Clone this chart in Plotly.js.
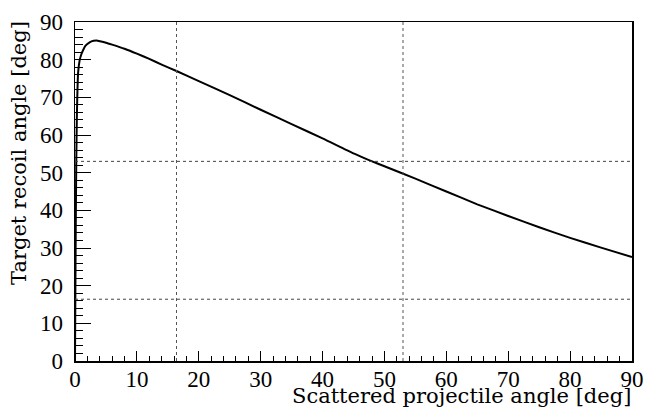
<!DOCTYPE html>
<html>
<head>
<meta charset="utf-8">
<script src="https://cdn.plot.ly/plotly-3.0.1.min.js"></script>
<style>
html,body{margin:0;padding:0;background:#fff;}
#chart{width:646px;height:409px;}
#chart .xtick text, #chart .ytick text{font-family:'Liberation Serif','Times New Roman',serif !important;}
#chart .annotation-text{font-family:'DejaVu Serif',serif !important;}
</style>
</head>
<body>
<div id="chart"></div>
<script>
// Scattered projectile angle [deg]
var projAngle = [0, 0.05, 0.12, 0.2, 0.3, 0.4, 0.5, 0.75, 1, 1.3, 1.7, 2.36, 3, 3.5, 4, 5, 6, 8, 10, 12, 14, 16.4, 20, 25, 30, 35, 40, 45, 47.7, 50, 55, 60, 65, 70, 75, 80, 85, 90];
// Target recoil angle [deg]
var recoilAngle = [0, 15, 35, 52, 65, 72, 76.5, 79.8, 81.3, 82.5, 83.7, 84.6, 85.0, 85.1, 84.9, 84.5, 84.0, 82.9, 81.6, 80.2, 78.7, 77.0, 74.3, 70.6, 66.7, 62.9, 59.1, 55.1, 53.2, 51.7, 48.4, 45.0, 41.6, 38.5, 35.5, 32.7, 30.1, 27.6];
// Marker angles (dashed guide lines)
var verticalCuts = [16.4, 53];
var horizontalCuts = [53, 16.4];
var xTitle = 'Scattered projectile angle [deg]';
var yTitle = 'Target recoil angle [deg]';

var TICKFONT = 'Liberation Serif';
var TITLEFONT = 'DejaVu Serif';
var shapes = [];
verticalCuts.forEach(function(v){
  shapes.push({type:'line', xref:'x', yref:'paper', x0:v, x1:v, y0:0, y1:1,
    line:{color:'#555', width:1, dash:'3px,3px'}});
});
horizontalCuts.forEach(function(v){
  shapes.push({type:'line', xref:'paper', yref:'y', x0:0, x1:1, y0:v, y1:v,
    line:{color:'#444', width:1, dash:'3px,3px'}});
});

var trace = {x: projAngle, y: recoilAngle, mode:'lines', type:'scatter',
  line:{color:'#000', width:2, shape:'spline', smoothing:0.5}, hoverinfo:'none'};

var axisCommon = {
  showgrid:false, zeroline:false, showline:true, mirror:true,
  linecolor:'#000', linewidth:1.5, ticks:'inside', tickcolor:'#000',
  tickfont:{family:TICKFONT, size:23, color:'#000'}, tick0:0, dtick:10
};

var layout = {
  width:646, height:409,
  margin:{l:75, r:14, t:22, b:48},
  paper_bgcolor:'#fff', plot_bgcolor:'#fff',
  showlegend:false,
  font:{family:TICKFONT, color:'#000'},
  xaxis: Object.assign({}, axisCommon, {range:[0,90], ticklen:10, tickwidth:1, ticklabelstandoff:-3,
    minor:{ticks:'inside', ticklen:5, dtick:2, tickcolor:'#000', tickwidth:1}}),
  yaxis: Object.assign({}, axisCommon, {range:[0,90], ticklen:16, tickwidth:1, ticklabelstandoff:6,
    minor:{ticks:'inside', ticklen:8, dtick:2, tickcolor:'#000', tickwidth:1}}),
  shapes: shapes,
  annotations:[
    {text:xTitle, xref:'paper', yref:'paper', x:1, y:0, xanchor:'right', yanchor:'bottom',
     yshift:-48, showarrow:false, borderpad:0, font:{family:TITLEFONT, size:21, color:'#000'}},
    {text:yTitle, xref:'paper', yref:'paper', x:0, y:1, xanchor:'right', yanchor:'top',
     xshift:-43, yshift:2, textangle:-90, showarrow:false, borderpad:0, font:{family:TITLEFONT, size:21, color:'#000'}}
  ]
};
Plotly.newPlot('chart', [trace], layout, {staticPlot:true, displayModeBar:false});
</script>
</body>
</html>
